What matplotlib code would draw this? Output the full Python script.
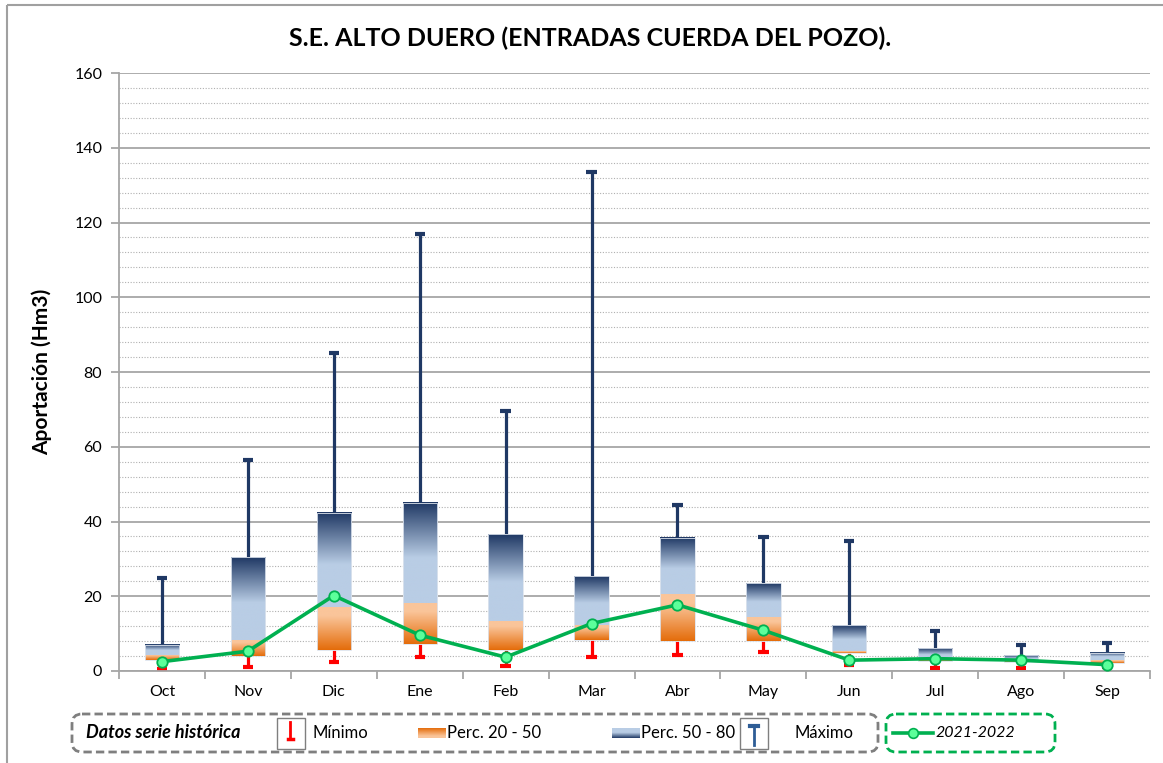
import numpy as np
import matplotlib
matplotlib.use("Agg")
import matplotlib.pyplot as plt
from matplotlib.colors import LinearSegmentedColormap
from matplotlib.patches import FancyBboxPatch, Rectangle
from matplotlib.ticker import MultipleLocator

plt.rcParams['font.family'] = ['Lato', 'DejaVu Sans']

months = ["Oct", "Nov", "Dic", "Ene", "Feb", "Mar", "Abr", "May", "Jun", "Jul", "Ago", "Sep"]
minimo = [0.5, 1.0, 2.5, 3.7, 1.4, 3.8, 4.4, 5.2, 1.6, 0.9, 0.7, 1.2]
perc20 = [2.9, 4.0, 5.6, 7.2, 5.6, 8.3, 8.1, 8.1, 4.9, 2.6, 2.5, 2.1]
perc50 = [4.3, 8.3, 17.0, 18.1, 13.5, 12.4, 20.5, 14.5, 5.4, 3.0, 2.8, 2.9]
perc80 = [7.0, 30.5, 42.3, 45.0, 36.7, 25.5, 35.7, 23.5, 12.2, 6.1, 4.2, 4.8]
maximo = [24.8, 56.5, 85.0, 117.0, 69.6, 133.5, 44.4, 35.9, 34.8, 10.8, 7.0, 7.4]
actual = [2.5, 5.3, 20.2, 9.6, 3.7, 12.7, 17.7, 10.9, 2.9, 3.3, 2.9, 1.7]

W, H = 1163, 763
fig = plt.figure(figsize=(W / 100, H / 100), dpi=100)
ax = fig.add_axes([119 / W, 1 - 671 / H, (1150 - 119) / W, (671 - 73) / H])

navy = "#1F3864"
blue_cmap = LinearSegmentedColormap.from_list("b", [(0, "#B9CDE5"), (0.45, "#B9CDE5"), (1, "#1F3864")])
orange_cmap = LinearSegmentedColormap.from_list("o", [(0, "#E46C0A"), (0.8, "#FAC59A"), (1, "#FAC59A")])
grad = np.linspace(0, 1, 256).reshape(-1, 1)

x = np.arange(len(months))
bw = 0.40
for i in x:
    # max whisker
    ax.plot([i, i], [perc80[i], maximo[i]], color=navy, lw=2.3, zorder=2, solid_capstyle='butt')
    ax.plot([i - 0.06, i + 0.06], [maximo[i], maximo[i]], color=navy, lw=3, zorder=2, solid_capstyle='butt')
    # min whisker
    ax.plot([i, i], [minimo[i], perc20[i]], color="#FF0000", lw=2.3, zorder=2, solid_capstyle='butt')
    ax.plot([i - 0.06, i + 0.06], [minimo[i], minimo[i]], color="#FF0000", lw=3, zorder=2, solid_capstyle='butt')
    # boxes with gradients
    ax.imshow(grad, cmap=orange_cmap, origin='lower', aspect='auto',
              extent=[i - bw / 2, i + bw / 2, perc20[i], perc50[i]], zorder=3)
    ax.imshow(grad, cmap=blue_cmap, origin='lower', aspect='auto',
              extent=[i - bw / 2, i + bw / 2, perc50[i], perc80[i]], zorder=3)
    ax.add_patch(Rectangle((i - bw / 2, perc20[i]), bw, perc80[i] - perc20[i],
                           fill=False, ec="#DDE4EE", lw=0.6, zorder=3.5))

ax.plot(x, actual, color="#00B050", lw=2.6, marker='o', ms=7.5,
        mfc="#5CFF9A", mec="#00B050", mew=1.3, zorder=5)

ax.set_xlim(-0.5, len(months) - 0.5)
ax.set_ylim(0, 160)
ax.yaxis.set_major_locator(MultipleLocator(20))
ax.yaxis.set_minor_locator(MultipleLocator(4))
ax.grid(which='major', axis='y', color='#A6A6A6', lw=1.3, zorder=0)
ax.grid(which='minor', axis='y', color='#B0B0B0', lw=0.8, ls=(0, (1, 1.5)), zorder=0)
ax.set_axisbelow(True)
ax.set_xticks(x)
ax.set_xticklabels(months, fontsize=11.5)
ax.set_xticks(np.arange(-0.5, len(months)), minor=True)
ax.tick_params(axis='x', which='major', length=0, pad=10)
ax.tick_params(axis='x', which='minor', length=6, color='#A6A6A6', width=1.3)
ax.tick_params(axis='y', which='major', length=6, color='#A6A6A6', width=1.3, labelsize=11.5, pad=6)
ax.tick_params(axis='y', which='minor', length=0)
for s in ['top', 'right']:
    ax.spines[s].set_visible(False)
for s in ['left', 'bottom']:
    ax.spines[s].set_color('#A6A6A6')
    ax.spines[s].set_linewidth(1.3)
ax.set_ylabel("Aportación (Hm3)", fontsize=15, fontweight='bold', labelpad=16)

fig.text(590 / W, 1 - 38 / H, "S.E. ALTO DUERO (ENTRADAS CUERDA DEL POZO).",
         ha='center', va='center', fontsize=18, fontweight='bold')

# overlay in pixel coordinates for border + legend
ov = fig.add_axes([0, 0, 1, 1], zorder=10)
ov.set_xlim(0, W)
ov.set_ylim(H, 0)
ov.axis('off')
ov.patch.set_alpha(0)
ov.add_patch(Rectangle((7, 5), W + 10, H + 10, fill=False, ec='#A0A0A0', lw=1.5))

ov.add_patch(FancyBboxPatch((72, 714), 806, 38, boxstyle="round,pad=0,rounding_size=10",
                            fill=False, ec='#7F7F7F', lw=2, ls=(0, (3, 1.5))))
ov.add_patch(FancyBboxPatch((886, 714), 169, 38, boxstyle="round,pad=0,rounding_size=10",
                            fill=False, ec='#00B050', lw=2, ls=(0, (3, 1.5))))
ov.text(86, 733, "Datos serie histórica", fontsize=13, fontweight='bold', style='italic', va='center')
# min icon
ov.add_patch(Rectangle((277, 718), 28, 31, fill=False, ec='#7F7F7F', lw=1))
ov.plot([290, 290], [722, 739], color='#FF0000', lw=2)
ov.plot([287.5, 292.5], [739, 739], color='#FF0000', lw=2.5)
ov.text(313, 733, "Mínimo", fontsize=12, va='center')
# orange patch
ov.imshow(grad, cmap=orange_cmap, origin='upper', aspect='auto', extent=[418, 446, 738, 728])
ov.text(447, 733, "Perc. 20 - 50", fontsize=12, va='center')
ov.imshow(grad, cmap=blue_cmap, origin='upper', aspect='auto', extent=[612, 640, 738, 728])
ov.text(641, 733, "Perc. 50 - 80", fontsize=12, va='center')
# max icon
ov.add_patch(Rectangle((740, 718), 28, 31, fill=False, ec='#7F7F7F', lw=1))
ov.plot([754, 754], [726, 745], color='#2E5D96', lw=2)
ov.plot([750, 758], [726, 726], color='#2E5D96', lw=3)
ov.text(795, 733, "Máximo", fontsize=12, va='center')
# series legend
ov.plot([893, 933], [733, 733], color='#00B050', lw=2.6)
ov.plot([913], [733], marker='o', ms=7, mfc="#5CFF9A", mec="#00B050", mew=1.2)
ov.text(936, 733, "2021-2022", fontsize=11.5, style='italic', va='center')
ov.set_xlim(0, W)
ov.set_ylim(H, 0)

fig.savefig("out.png", dpi=100)
